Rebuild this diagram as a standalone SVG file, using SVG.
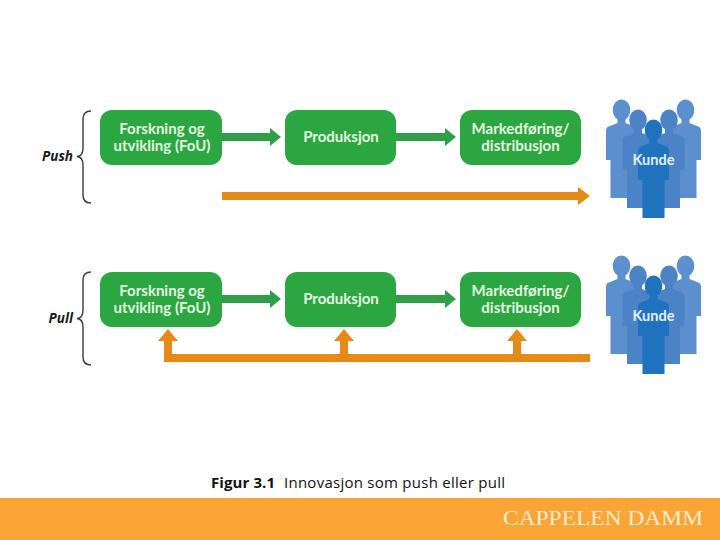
<svg xmlns="http://www.w3.org/2000/svg" width="720" height="540" viewBox="0 0 720 540">
<style>
.box{fill:#2ba641}
.bt{font-family:"Lato","Open Sans",sans-serif;font-weight:700;font-size:15px;fill:#e6f4e2;text-anchor:middle}
.gl{stroke:#2f9e48;stroke-width:8;fill:none}
.gh{fill:#2f9e48}
.ol{stroke:#e58a17;stroke-width:8;fill:none}
.oh{fill:#e58a17}
.br{stroke:#3a3a3a;stroke-width:1.4;fill:none}
.lab{font-family:"Open Sans",sans-serif;font-weight:700;font-style:italic;font-size:13.5px;fill:#1a1a1a;text-anchor:end}
.ku{font-family:"Lato","Open Sans",sans-serif;font-weight:700;font-size:14.5px;fill:#e4eff8;text-anchor:middle}
.cap{font-family:"Open Sans","Liberation Sans",sans-serif;font-size:15px;fill:#111}
.logo{font-family:"Liberation Serif",serif;font-size:20.5px;fill:#fdeccb}
</style>
<defs>
<g id="person">
<ellipse cx="0" cy="10" rx="8.8" ry="10.5"/>
<path d="M-4,18 H4 V23 L14,27 Q15.500,28 15.500,31 V60 H11 V98 H-11 V60 H-15.500 V31 Q-15.500,28 -14,27 L-4,23 Z"/>
</g>
<g id="crowd">
<use href="#person" x="621.500" y="100" fill="#5b8fcd"/>
<use href="#person" x="685.500" y="100" fill="#5b8fcd"/>
<use href="#person" x="638" y="110" fill="#4b83c6"/>
<use href="#person" x="669" y="110" fill="#4b83c6"/>
<use href="#person" x="653.500" y="120" fill="#1f72bd"/>
</g>
</defs>
<rect width="720" height="540" fill="#ffffff"/>
<g id="connectors">
<path class="gl" d="M222,137 H272"/><polygon class="gh" points="270,128 281,137 270,146"/>
<path class="gl" d="M396,137 H447"/><polygon class="gh" points="445,128 456,137 445,146"/>
<path class="ol" d="M222,196 H580"/><polygon class="oh" points="578,187 590,196 578,205"/>
<path class="gl" d="M222,299 H272"/><polygon class="gh" points="270,290 281,299 270,308"/>
<path class="gl" d="M396,299 H447"/><polygon class="gh" points="445,290 456,299 445,308"/>
<path class="ol" d="M590,358 H168 V338"/><polygon class="oh" points="158,341 168,329 178,341"/>
<path class="ol" d="M344,358 V338"/><polygon class="oh" points="334,341 344,329 354,341"/>
<path class="ol" d="M517,358 V338"/><polygon class="oh" points="507,341 517,329 527,341"/>
</g>
<g id="push-label">
<path class="br" d="M91,111 Q83,111 83,119 V148 Q83,156 77,156.500 Q83,157 83,165 V195 Q83,203 91,203"/>
<text class="lab" x="73" y="161">Push</text>
</g>
<g id="pull-label">
<path class="br" d="M91,272 Q83,272 83,280 V310 Q83,318 77,318.500 Q83,319 83,327 V357 Q83,365 91,365"/>
<text class="lab" x="73" y="323">Pull</text>
</g>
<g id="push-fou"><rect class="box" x="100" y="110" width="122" height="55" rx="12"/>
<text class="bt" x="162" y="134">Forskning og</text><text class="bt" x="162" y="151">utvikling (FoU)</text></g>
<g id="push-prod"><rect class="box" x="285" y="110" width="111" height="55" rx="12"/>
<text class="bt" x="341" y="142">Produksjon</text></g>
<g id="push-mark"><rect class="box" x="460" y="110" width="121" height="55" rx="12"/>
<text class="bt" x="520.500" y="134">Markedføring/</text><text class="bt" x="520.500" y="151">distribusjon</text></g>
<g id="pull-fou"><rect class="box" x="100" y="272" width="122" height="55" rx="12"/>
<text class="bt" x="162" y="296">Forskning og</text><text class="bt" x="162" y="313">utvikling (FoU)</text></g>
<g id="pull-prod"><rect class="box" x="285" y="272" width="111" height="55" rx="12"/>
<text class="bt" x="341" y="304">Produksjon</text></g>
<g id="pull-mark"><rect class="box" x="460" y="272" width="121" height="55" rx="12"/>
<text class="bt" x="520.500" y="296">Markedføring/</text><text class="bt" x="520.500" y="313">distribusjon</text></g>
<g id="push-kunde"><use href="#crowd"/><text class="ku" x="653.500" y="165">Kunde</text></g>
<g id="pull-kunde"><use href="#crowd" y="156"/><text class="ku" x="653.500" y="321">Kunde</text></g>
<text class="cap" x="211" y="488"><tspan font-weight="700" textLength="64">Figur 3.1</tspan><tspan x="284" textLength="221">Innovasjon som push eller pull</tspan></text>
<rect id="footer" x="0" y="498" width="720" height="42" fill="#fba536"/>
<text class="logo" x="503" y="525" textLength="200" lengthAdjust="spacingAndGlyphs">CAPPELEN DAMM</text>
</svg>
